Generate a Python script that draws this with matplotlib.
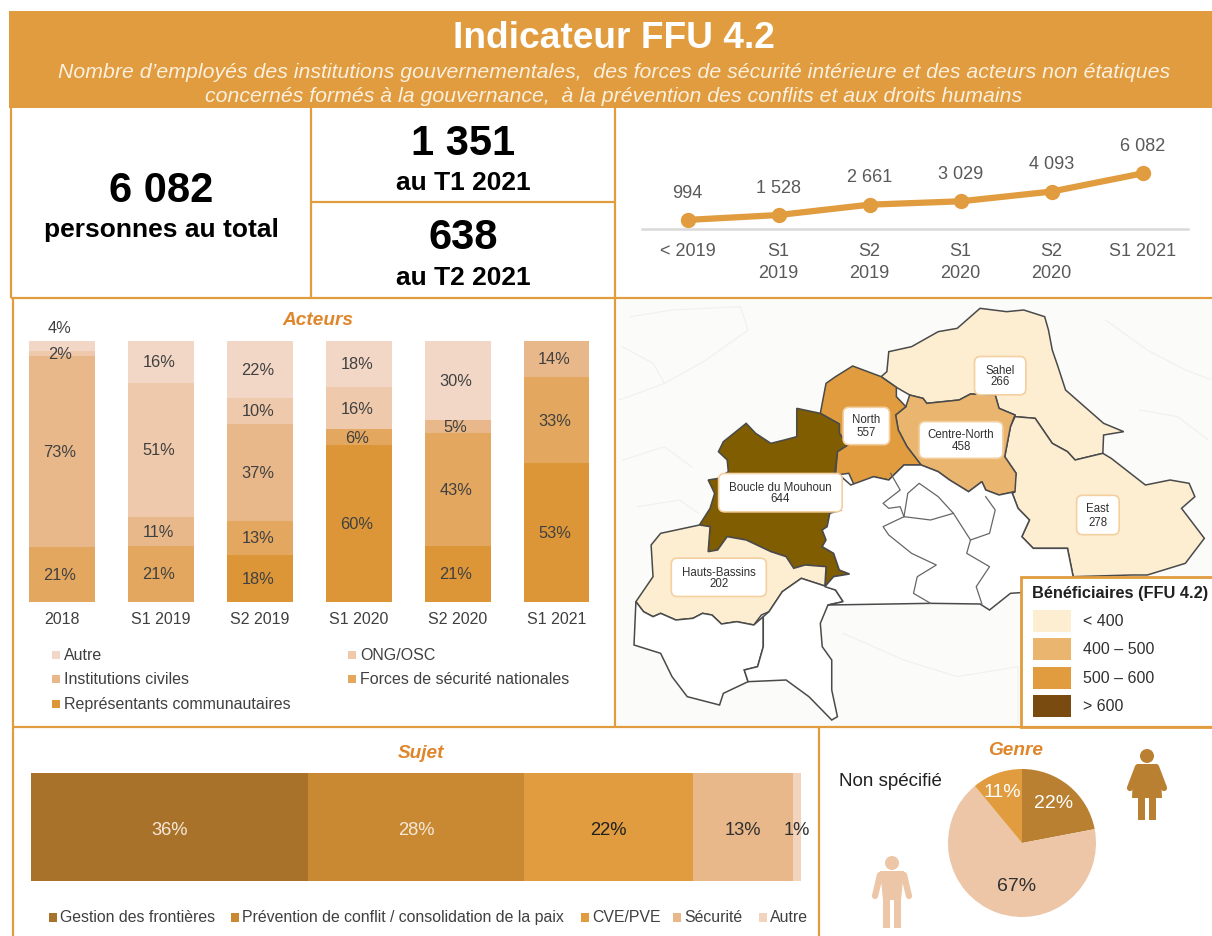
import matplotlib
matplotlib.use('Agg')
import matplotlib.pyplot as plt
import numpy as np
from matplotlib.patches import Circle, FancyBboxPatch, Polygon, Rectangle

plt.rcParams['font.family'] = ['Liberation Sans', 'DejaVu Sans']

W, H = 1212, 937
ORANGE = '#E09C3E'
TITLE_ORANGE = '#E0862A'
GREY = '#404040'

# line chart
trend_labels = ['< 2019', 'S1\n2019', 'S2\n2019', 'S1\n2020', 'S2\n2020', 'S1 2021']
trend_values = [994, 1528, 2661, 3029, 4093, 6082]
trend_texts = ['994', '1 528', '2 661', '3 029', '4 093', '6 082']

# acteurs
periods = ['2018', 'S1 2019', 'S2 2019', 'S1 2020', 'S2 2020', 'S1 2021']
actor_names = ['Représentants communautaires', 'Forces de sécurité nationales',
               'Institutions civiles', 'ONG/OSC', 'Autre']
representants = [0, 0, 18, 60, 21, 53]
forces = [21, 21, 13, 6, 43, 33]
institutions = [73, 11, 37, 0, 5, 14]
ong = [2, 51, 10, 16, 0, 0]
autre = [4, 16, 22, 18, 30, 0]
actor_colors = ['#DC9638', '#E3A75F', '#E9B88A', '#EEC9AC', '#F3D7C6']

# sujet
subject_names = ['Gestion des frontières', 'Prévention de conflit / consolidation de la paix',
                 'CVE/PVE', 'Sécurité', 'Autre']
subject_values = [36, 28, 22, 13, 1]
subject_colors = ['#A9722A', '#C98932', '#E09C3E', '#E9B88A', '#F1D3BE']
subject_text = ['#F5E8D8', '#F5E8D8', '#202020', '#303030', '#303030']

# genre
gender_values = [22, 67, 11]
gender_colors = ['#B98031', '#ECC6A6', '#E09C3E']
gender_text = ['#FFFFFF', '#303030', '#FFFFFF']
gender_label_pos = [(0.42, 0.55), (-0.07, -0.57), (-0.26, 0.69)]

map_colors = {'low': '#FDEED2', 'mid': '#EAB56F', 'high': '#E09C3E', 'top': '#7F5D00'}
sahel = [(960, 25), (1030, 35), (1075, 30), (1130, 50), (1140, 90), (1150, 150), (1165, 200), (1185, 270), (1240, 325),
         (1285, 370), (1338, 395), (1285, 405), (1283, 460), (1210, 480), (1190, 455), (1150, 430), (1105, 355),
         (1052, 350), (1052, 345), (1010, 325), (1000, 285), (935, 282), (905, 300), (820, 310), (810, 295),
         (775, 285), (740, 262), (700, 230), (715, 215), (720, 155), (780, 140), (850, 95), (900, 85)]
east = [(1052, 350), (1105, 355), (1150, 430), (1190, 455), (1210, 480), (1283, 460), (1305, 475), (1395, 555),
        (1460, 540), (1510, 550), (1525, 590), (1490, 625), (1550, 715), (1500, 790), (1400, 825), (1360, 825),
        (1205, 830), (1190, 745), (1100, 745), (1070, 710), (1090, 660), (1060, 625), (1045, 580), (1055, 520),
        (1025, 470), (1040, 380)]
centre_north = [(775, 285), (810, 295), (820, 310), (905, 300), (935, 282), (1000, 285), (1010, 325), (1052, 345),
                (1040, 380), (1025, 470), (1055, 520), (1052, 575), (1010, 585), (975, 570), (965, 545), (930, 575),
                (880, 540), (850, 515), (805, 495), (768, 440), (745, 390), (738, 345), (765, 320)]
north = [(625, 198), (700, 230), (740, 262), (740, 290), (765, 320), (738, 345), (745, 390), (768, 440), (805, 495),
         (760, 495), (720, 540), (680, 530), (630, 558), (615, 520), (580, 525), (585, 455), (612, 435), (590, 400),
         (590, 372), (540, 340), (555, 250), (580, 230)]
boucle = [(478, 325), (540, 340), (590, 372), (590, 400), (612, 435), (585, 455), (578, 520), (595, 530), (595, 630),
          (565, 640), (558, 680), (545, 690), (555, 720), (545, 740), (575, 760), (590, 810), (617, 822), (575, 830),
          (552, 860), (555, 800), (500, 795), (470, 805), (450, 770), (410, 755), (345, 720), (295, 710), (270, 750),
          (245, 755), (250, 680), (222, 675), (250, 625), (262, 580), (245, 540), (272, 535), (298, 515), (295, 480),
          (272, 455), (285, 425), (345, 370), (370, 400), (410, 430), (445, 420), (478, 410)]
hauts_bassins = [(222, 675), (250, 680), (245, 755), (270, 750), (295, 710), (345, 720), (410, 755), (450, 770),
                 (470, 805), (500, 795), (555, 800), (552, 858), (490, 835), (440, 875), (405, 935), (385, 945),
                 (365, 975), (320, 965), (280, 972), (255, 945), (230, 940), (205, 955), (160, 960), (120, 940),
                 (100, 950), (75, 935), (55, 905), (100, 830), (95, 735), (120, 700)]
cascades = [(55, 905), (75, 935), (100, 950), (120, 940), (160, 960), (205, 955), (230, 940), (255, 945), (280, 972),
            (320, 965), (365, 975), (390, 950), (390, 1040), (375, 1100), (340, 1110), (350, 1145), (285, 1180),
            (275, 1215), (190, 1190), (150, 1130), (120, 1060), (50, 1035)]
sud_ouest = [(390, 950), (405, 935), (440, 875), (490, 835), (552, 858), (580, 870), (600, 905), (560, 915), (540, 970),
             (545, 1040), (570, 1080), (570, 1170), (585, 1250), (570, 1260), (510, 1190), (450, 1140), (350, 1145),
             (340, 1110), (375, 1100), (390, 1040)]
centre = [(595, 530), (620, 555), (680, 530), (720, 540), (760, 495), (805, 495), (850, 515), (880, 540), (930, 575),
          (965, 545), (975, 570), (1010, 585), (1052, 575), (1045, 580), (1060, 625), (1090, 660), (1070, 710),
          (1100, 745), (1190, 745), (1205, 830), (1205, 878), (1065, 878), (1040, 880), (985, 930), (960, 912),
          (830, 910), (560, 915), (600, 905), (580, 870), (552, 860), (575, 830), (617, 822), (590, 810), (575, 760),
          (545, 740), (555, 720), (545, 690), (558, 680), (565, 640), (595, 630)]
inner_lines = [
    [(725, 520), (750, 570), (705, 610), (720, 625), (750, 620), (760, 650), (705, 680), (720, 705), (780, 760),
     (845, 795), (795, 830), (785, 880), (830, 910)],
    [(760, 650), (770, 580), (800, 550), (850, 590), (890, 640), (935, 720), (985, 700), (1000, 630), (975, 590)],
    [(760, 650), (830, 660), (890, 640)],
    [(935, 720), (925, 760), (985, 800), (950, 860), (965, 912)],
]
faint_lines = [
    [(20, 140), (100, 190), (130, 250), (60, 280), (10, 300)],
    [(40, 50), (150, 30), (330, 20), (350, 90), (240, 180), (130, 250)],
    [(60, 620), (170, 600), (220, 640)],
    [(1290, 60), (1400, 150), (1500, 210), (1570, 240)],
    [(1380, 330), (1480, 350), (1560, 420)],
    [(600, 1000), (760, 1080), (900, 1130), (1060, 1100), (1060, 1270)],
    [(20, 480), (130, 440), (200, 500)],
]
map_shapes = [(sahel, 'low'), (east, 'low'), (centre_north, 'mid'), (north, 'high'), (boucle, 'top'),
              (hauts_bassins, 'low'), (cascades, None), (sud_ouest, None), (centre, None)]

region_names = ['Sahel', 'North', 'Centre-North', 'Boucle du Mouhoun', 'East', 'Hauts-Bassins']
region_values = [266, 557, 458, 644, 278, 202]
label_centers = [(1013, 227), (661, 378), (910, 420), (435, 578), (1270, 645), (273, 832)]
label_widths = [135, 122, 220, 325, 112, 250]
label_heights = [115, 112, 110, 115, 118, 115]
label_gaps = [5.7, 6.5, 5.7, 5.5, 7, 5.7]

legend_labels = ['< 400', '400 – 500', '500 – 600', '> 600']
legend_colors = ['#FDEED2', '#EAB56F', '#E09C3E', '#7A4B10']


def zoomed(points):
    # zoom coords -> pixels of the figure
    return np.array(points, dtype=float) / [2.63, 3.0] + [615, 300]


def px_axes(x0, y0, x1, y1):
    return fig.add_axes([x0 / W, 1 - (y1 + 1) / H, (x1 - x0) / W, (y1 - y0) / H])


fig = plt.figure(figsize=(W / 100, H / 100), dpi=100, facecolor='white')

# background layer in pixel coordinates
bg = fig.add_axes([0, 0, 1, 1])
bg.set_xlim(0, W)
bg.set_ylim(H - 1, -1)
bg.axis('off')

# map
bg.add_patch(Rectangle((617, 300), 595, 427, facecolor='#FBFBFA', edgecolor='none', zorder=0))
for line in faint_lines:
    pts = zoomed(line)
    bg.plot(pts[:, 0], pts[:, 1], color='#F0F0EE', lw=0.8, zorder=0.5)
for shape, level in map_shapes:
    color = map_colors[level] if level else 'white'
    bg.add_patch(Polygon(zoomed(shape), closed=True, facecolor=color, edgecolor='#4A4A4A', lw=1.1, zorder=1))
for line in inner_lines:
    pts = zoomed(line)
    bg.plot(pts[:, 0], pts[:, 1], color='#666666', lw=0.9, zorder=1.5)
for name, value, c, w, h, gap in zip(region_names, region_values, label_centers, label_widths, label_heights, label_gaps):
    cx, cy = zoomed([c])[0]
    w, h = w / 2.63, h / 3.0
    bg.add_patch(FancyBboxPatch((cx - w / 2 + 4, cy - h / 2 + 4), w - 8, h - 8, boxstyle='round,pad=4,rounding_size=6',
                                facecolor='white', edgecolor='#F4CFA0', lw=1.2, zorder=2))
    bg.text(cx, cy - gap, name, ha='center', va='center', fontsize=8.3, color='#303030', zorder=3)
    bg.text(cx, cy + gap, str(value), ha='center', va='center', fontsize=8.3, color='#303030', zorder=3)

# map legend
bg.add_patch(Rectangle((1021, 577), 195, 150, facecolor='white', edgecolor=ORANGE, lw=2, zorder=4))
bg.text(1032, 593, 'Bénéficiaires (FFU 4.2)', fontsize=11.8, fontweight='bold', color='#202020', va='center', zorder=5)
for label, color, y in zip(legend_labels, legend_colors, [610, 638, 667, 695]):
    bg.add_patch(Rectangle((1033, y), 38, 22, facecolor=color, edgecolor='none', zorder=5))
    bg.text(1083, y + 11, label, fontsize=11.5, color='#303030', va='center', zorder=5)

# header
bg.add_patch(Rectangle((9, 11), 1203, 97, facecolor=ORANGE, edgecolor='none', zorder=6))
bg.text(614, 37, 'Indicateur FFU 4.2', color='white', fontsize=26.7, fontweight='bold', ha='center', va='center', zorder=7)
bg.text(614, 72, 'Nombre d’employés des institutions gouvernementales,  des forces de sécurité intérieure et des acteurs non étatiques',
        color='#FBF0E0', fontsize=15.3, style='italic', ha='center', va='center', zorder=7)
bg.text(614, 96, 'concernés formés à la gouvernance,  à la prévention des conflits et aux droits humains',
        color='#FBF0E0', fontsize=15.3, style='italic', ha='center', va='center', zorder=7)

# frame
frame = [((11, 108), (11, 298)), ((311, 108), (311, 298)), ((615, 108), (615, 727)), ((311, 202), (615, 202)),
         ((11, 298), (1212, 298)), ((13, 298), (13, 937)), ((13, 727), (1212, 727)), ((819, 727), (819, 937))]
for a, b in frame:
    bg.plot([a[0], b[0]], [a[1], b[1]], color=ORANGE, lw=1.6, zorder=8, solid_capstyle='butt')

# KPI
bg.text(161, 190, '6 082', fontsize=30, fontweight='bold', color='black', ha='center', va='center')
bg.text(161, 229, 'personnes au total', fontsize=19, fontweight='bold', color='black', ha='center', va='center')
bg.text(463, 143, '1 351', fontsize=30, fontweight='bold', color='black', ha='center', va='center')
bg.text(463, 182, 'au T1 2021', fontsize=19, fontweight='bold', color='black', ha='center', va='center')
bg.text(463, 237, '638', fontsize=30, fontweight='bold', color='black', ha='center', va='center')
bg.text(463, 277, 'au T2 2021', fontsize=19, fontweight='bold', color='black', ha='center', va='center')

# section titles
for txt, x, y in [('Acteurs', 318, 320), ('Sujet', 421, 753), ('Genre', 1016, 750)]:
    bg.text(x, y, txt, fontsize=13.7, fontweight='bold', style='italic', color=TITLE_ORANGE, ha='center', va='center')
bg.text(839, 781, 'Non spécifié', fontsize=13.5, color='#202020', va='center')

# trend line
ax = px_axes(642, 165, 1188, 229)
x = np.arange(len(trend_values))
ax.plot(x, trend_values, '-o', color=ORANGE, lw=4.5, markersize=10, clip_on=False)
for i, v in enumerate(trend_values):
    ax.annotate(trend_texts[i], (i, v), xytext=(0, 20), textcoords='offset points', ha='center', va='center',
                fontsize=13, color='#595959', annotation_clip=False)
ax.set_xlim(-0.5, 5.5)
ax.set_ylim(0, 7000)
ax.set_xticks(x)
ax.set_xticklabels(trend_labels, fontsize=13, color='#595959', linespacing=1.45)
ax.set_yticks([])
ax.tick_params(axis='x', length=0, pad=9)
for s in ['top', 'left', 'right']:
    ax.spines[s].set_visible(False)
ax.spines['bottom'].set_color('#D9D9D9')
ax.spines['bottom'].set_linewidth(1.8)
ax.patch.set_alpha(0)

# acteurs stacked bars
ax = px_axes(12.5, 340.5, 606, 601.5)
actors = np.array([representants, forces, institutions, ong, autre], dtype=float)
shares = actors / actors.sum(axis=0) * 100
x = np.arange(len(periods))
bottom = np.zeros(len(periods))
for k in range(len(actor_names)):
    ax.bar(x, shares[k], 0.665, bottom=bottom, color=actor_colors[k])
    for i in range(len(periods)):
        if actors[k, i] > 0:
            ypos = bottom[i] + shares[k, i] / 2
            if periods[i] == '2018' and actor_names[k] == 'Autre':
                ypos = 105
            ax.text(i - 0.02, ypos, '%d%%' % actors[k, i], ha='center', va='center', fontsize=11.8,
                    color=GREY, clip_on=False)
    bottom += shares[k]
ax.set_xlim(-0.5, 5.5)
ax.set_ylim(0, 100)
ax.set_xticks(x)
ax.set_xticklabels(periods, fontsize=11.5, color=GREY)
ax.set_yticks([])
ax.tick_params(axis='x', length=0, pad=7)
for s in ax.spines.values():
    s.set_visible(False)
ax.patch.set_alpha(0)

# acteurs legend
order = [4, 2, 0, 3, 1]
slots = [(52, 655), (52, 679), (52, 704), (348, 655), (348, 679)]
for k, (lx, ly) in zip(order, slots):
    bg.add_patch(Rectangle((lx, ly - 4), 8, 8, facecolor=actor_colors[k], edgecolor='none'))
    bg.text(lx + 12, ly, actor_names[k], fontsize=11.5, color=GREY, va='center')

# sujet bar
ax = px_axes(31, 773, 801, 881)
left = 0
for name, v, c, tc in zip(subject_names, subject_values, subject_colors, subject_text):
    ax.barh(0, v, 1, left=left, color=c)
    ax.text(left + v / 2, -0.02, '%d%%' % v, ha='center', va='center', fontsize=13.2, color=tc, clip_on=False)
    left += v
ax.set_xlim(0, 100)
ax.set_ylim(-0.5, 0.5)
ax.axis('off')

subject_legend_x = [49, 231, 581, 673, 759]
for k, lx in enumerate(subject_legend_x):
    bg.add_patch(Rectangle((lx, 913), 8, 9, facecolor=subject_colors[k], edgecolor='none'))
    bg.text(lx + 11, 917, subject_names[k], fontsize=11.4, color=GREY, va='center')

# genre pie
ax = px_axes(948, 769, 1096, 917)
wedges, _ = ax.pie(gender_values, colors=gender_colors, startangle=90, counterclock=False, radius=1)
ax.set_xlim(-1, 1)
ax.set_ylim(-1, 1)
for v, tc, pos in zip(gender_values, gender_text, gender_label_pos):
    ax.text(pos[0], pos[1], '%d%%' % v, ha='center', va='center', fontsize=14, color=tc)

# pictogrammes
woman = '#B98031'
bg.add_patch(Circle((1147, 756), 7, facecolor=woman, edgecolor='none'))
bg.add_patch(Polygon([(1138, 764), (1156, 764), (1161, 775), (1162, 798), (1132, 798), (1133, 775)],
                     closed=True, facecolor=woman, edgecolor='none'))
bg.plot([1138, 1130], [767, 788], color=woman, lw=4.5, solid_capstyle='round')
bg.plot([1156, 1164], [767, 788], color=woman, lw=4.5, solid_capstyle='round')
bg.add_patch(Rectangle((1138, 798), 7, 22, facecolor=woman, edgecolor='none'))
bg.add_patch(Rectangle((1149, 798), 7, 22, facecolor=woman, edgecolor='none'))
man = '#ECC6A6'
bg.add_patch(Circle((892, 863), 7, facecolor=man, edgecolor='none'))
bg.add_patch(Polygon([(880, 871), (904, 871), (901, 900), (883, 900)],
                     closed=True, facecolor=man, edgecolor='none'))
bg.plot([880, 875], [875, 896], color=man, lw=4.5, solid_capstyle='round')
bg.plot([904, 909], [875, 896], color=man, lw=4.5, solid_capstyle='round')
bg.add_patch(Rectangle((883, 899), 7, 29, facecolor=man, edgecolor='none'))
bg.add_patch(Rectangle((894, 899), 7, 29, facecolor=man, edgecolor='none'))

fig.savefig('out.png', dpi=100)
